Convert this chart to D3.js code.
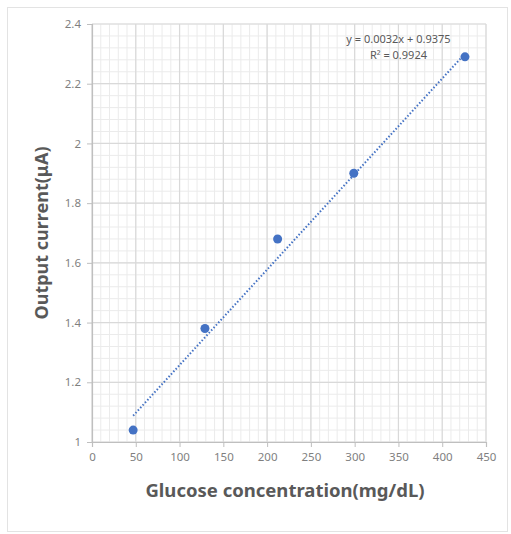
<!DOCTYPE html>
<html>
<head>
<meta charset="utf-8">
<script src="https://cdn.jsdelivr.net/npm/d3@7"></script>
<style>
  body { margin: 0; background: #fff; }
  text { font-family: "Noto Sans", "Open Sans", sans-serif; }
</style>
</head>
<body>
<div id="chart"></div>
<script>

// data
let concentration = [47, 129, 212, 299, 426];
let current = [1.04, 1.38, 1.68, 1.90, 2.29];
let xTicks = [0, 50, 100, 150, 200, 250, 300, 350, 400, 450];
let yTicks = [1, 1.2, 1.4, 1.6, 1.8, 2, 2.2, 2.4];
let slope = 0.0032, intercept = 0.9375;
let equationLines = ["y = 0.0032x + 0.9375", "R² = 0.9924"];

let points = concentration.map((c, i) => ({ x: c, y: current[i] }));

let W = 511, H = 534;
let margin = { top: 24, right: 25, bottom: 92, left: 92 },
  width = W - margin.left - margin.right,
  height = H - margin.top - margin.bottom;

let root = d3.select("#chart")
  .append("svg")
  .attr("width", W)
  .attr("height", H);

// outer frame
root.append("rect")
  .attr("x", 7.5).attr("y", 7.5)
  .attr("width", 500).attr("height", 524)
  .attr("fill", "none")
  .attr("stroke", "#e3e3e3")
  .attr("stroke-width", 1);

let svg = root.append("g")
  .attr("transform", "translate(" + margin.left + "," + margin.top + ")");

let x = d3.scaleLinear()
  .domain([0, 450])
  .range([0, width]);

let y = d3.scaleLinear()
  .domain([1, 2.4])
  .range([height, 0]);

// minor grid
svg.append("g")
  .selectAll("line.mx")
  .data(d3.range(0, 451, 10))
  .join("line")
  .attr("x1", d => x(d)).attr("x2", d => x(d))
  .attr("y1", 0).attr("y2", height)
  .attr("stroke", "#ebebeb");

svg.append("g")
  .selectAll("line.my")
  .data(d3.range(0, 36).map(i => 1 + i * 0.04))
  .join("line")
  .attr("x1", 0).attr("x2", width)
  .attr("y1", d => y(d)).attr("y2", d => y(d))
  .attr("stroke", "#ebebeb");

// major grid
svg.append("g")
  .selectAll("line")
  .data(xTicks)
  .join("line")
  .attr("x1", d => x(d)).attr("x2", d => x(d))
  .attr("y1", 0).attr("y2", height)
  .attr("stroke", "#d9d9d9")
  .style("stroke-width", 1.2);

svg.append("g")
  .selectAll("line")
  .data(yTicks)
  .join("line")
  .attr("x1", 0).attr("x2", width)
  .attr("y1", d => y(d)).attr("y2", d => y(d))
  .attr("stroke", "#d9d9d9")
  .style("stroke-width", 1.2);

// axes
let xAxisCall = d3.axisBottom(x).tickValues(xTicks).tickSize(5).tickPadding(6);
let xAxis = svg.append("g")
  .attr("transform", "translate(0," + height + ")")
  .call(xAxisCall);

let yAxisCall = d3.axisLeft(y).tickValues(yTicks).tickSize(5).tickPadding(6)
  .tickFormat(d3.format("~g"));
let yAxis = svg.append("g")
  .call(yAxisCall);

[xAxis, yAxis].forEach(a => {
  a.select(".domain").attr("stroke", "#bfbfbf").style("stroke-width", 1.2);
  a.selectAll(".tick line").attr("stroke", "#bfbfbf");
  a.selectAll(".tick text")
    .attr("fill", "#7f7f7f")
    .style("font-size", "11.5px")
    .style("font-family", "'Noto Sans', sans-serif");
});

// trendline
svg.append("path")
  .datum(d3.extent(concentration))
  .attr("d", d3.line()
    .x(d => x(d))
    .y(d => y(slope * d + intercept)))
  .attr("stroke", "#4472c4")
  .style("fill", "none")
  .style("stroke-width", 2)
  .style("stroke-dasharray", "1.5,2");

// points
svg.append("g")
  .selectAll("circle")
  .data(points)
  .join("circle")
  .attr("cx", d => x(d.x))
  .attr("cy", d => y(d.y))
  .attr("r", 4.5)
  .style("fill", "#4472c4");

// equation label
svg.append("g")
  .selectAll("text")
  .data(equationLines)
  .join("text")
  .attr("x", x(350))
  .attr("y", (d, i) => y(2.335) + i * 16)
  .attr("text-anchor", "middle")
  .attr("fill", "#595959")
  .style("font-size", "11px")
  .text(d => d);

// axis titles
root.append("text")
  .attr("x", margin.left + width / 2 - 4)
  .attr("y", 497)
  .attr("text-anchor", "middle")
  .attr("fill", "#595959")
  .style("font-size", "18.5px")
  .style("font-weight", "bold")
  .text("Glucose concentration(mg/dL)");

root.append("text")
  .attr("transform", "translate(48," + (margin.top + height / 2) + ") rotate(-90)")
  .attr("text-anchor", "middle")
  .attr("fill", "#595959")
  .style("font-size", "18px")
  .style("font-weight", "bold")
  .text("Output current(μA)");

</script>
</body>
</html>
